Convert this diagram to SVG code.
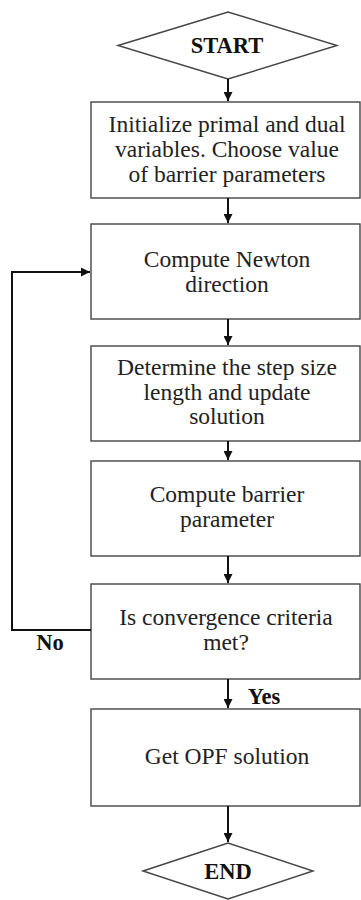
<svg xmlns="http://www.w3.org/2000/svg" width="361" height="900" viewBox="0 0 361 900">
<defs>
<marker id="ah" viewBox="0 0 10 10" refX="10" refY="5" markerWidth="4.5" markerHeight="4.5" orient="auto" markerUnits="strokeWidth">
<path d="M0,0 L10,5 L0,10 z" fill="#111"/>
</marker>
</defs>
<style>
.box{fill:#fff;stroke:#444;stroke-width:1.4}
.t{font-family:'Liberation Serif','DejaVu Serif',serif;font-size:23.5px;fill:#222;text-anchor:middle}
.b{font-family:'Liberation Serif','DejaVu Serif',serif;font-size:22.5px;font-weight:bold;fill:#111;text-anchor:middle}
.c{fill:none;stroke:#111;stroke-width:2;marker-end:url(#ah)}
</style>
<rect width="361" height="900" fill="#fff"/>
<g id="start">
<polygon class="box" points="118,45.5 228,12 337,45.5 228,79"/>
<text class="b" x="227" y="53">START</text>
</g>
<g id="init">
<rect class="box" x="91" y="102" width="269" height="96"/>
<text class="t" x="227" y="132">Initialize primal and dual</text>
<text class="t" x="227" y="157">variables. Choose value</text>
<text class="t" x="227" y="182">of barrier parameters</text>
</g>
<g id="newton">
<rect class="box" x="91" y="224" width="269" height="95"/>
<text class="t" x="227" y="267">Compute Newton</text>
<text class="t" x="227" y="292">direction</text>
</g>
<g id="step">
<rect class="box" x="91" y="346" width="269" height="95"/>
<text class="t" x="227" y="375">Determine the step size</text>
<text class="t" x="227" y="400">length and update</text>
<text class="t" x="227" y="424">solution</text>
</g>
<g id="barrier">
<rect class="box" x="91" y="461" width="269" height="95"/>
<text class="t" x="227" y="502">Compute barrier</text>
<text class="t" x="227" y="527">parameter</text>
</g>
<g id="conv">
<rect class="box" x="91" y="584" width="269" height="95"/>
<text class="t" x="226" y="625">Is convergence criteria</text>
<text class="t" x="226" y="650">met?</text>
</g>
<g id="opf">
<rect class="box" x="91" y="709" width="269" height="97"/>
<text class="t" x="227" y="764">Get OPF solution</text>
</g>
<g id="end">
<polygon class="box" points="143,871 228,843 313,871 228,899"/>
<text class="b" x="228" y="879">END</text>
</g>
<g id="connectors">
<line class="c" x1="228" y1="79" x2="228" y2="101"/>
<line class="c" x1="228" y1="198" x2="228" y2="223"/>
<line class="c" x1="228" y1="319" x2="228" y2="345"/>
<line class="c" x1="228" y1="441" x2="228" y2="460"/>
<line class="c" x1="228" y1="556" x2="228" y2="583"/>
<line class="c" x1="228" y1="679" x2="228" y2="708"/>
<line class="c" x1="228" y1="806" x2="228" y2="842"/>
<polyline class="c" points="91,630 12,630 12,272 90,272"/>
<text class="b" x="50" y="650">No</text>
<text class="b" x="264" y="704">Yes</text>
</g>
</svg>
